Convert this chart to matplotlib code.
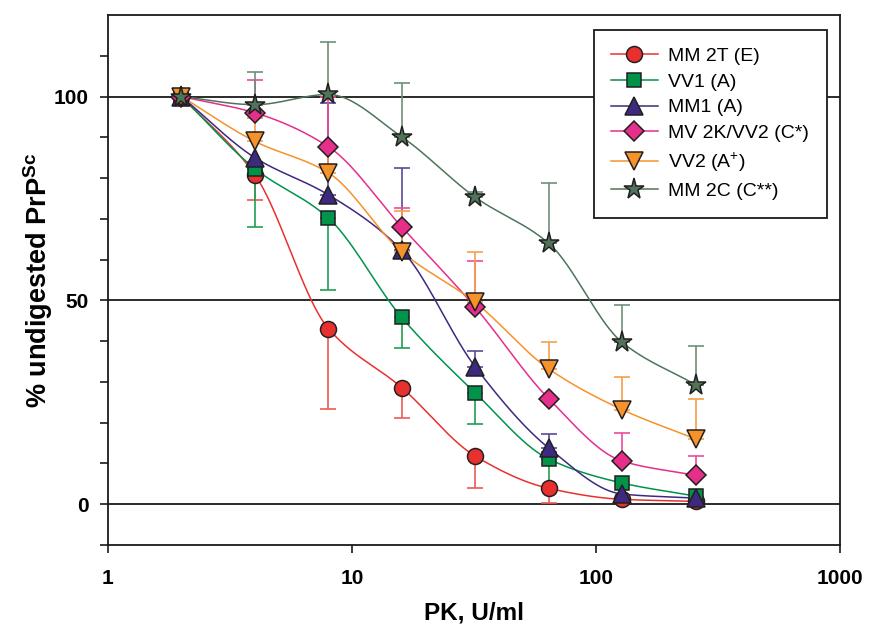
import numpy as np
import matplotlib
matplotlib.use("Agg")
import matplotlib.pyplot as plt
from matplotlib.lines import Line2D

plt.rcParams['font.family'] = ['Liberation Sans', 'DejaVu Sans']
plt.rcParams['mathtext.fontset'] = 'custom'
plt.rcParams['mathtext.rm'] = 'Liberation Sans'
plt.rcParams['mathtext.bf'] = 'Liberation Sans:bold'

# ---------------- data ----------------
pk = [2, 4, 8, 16, 32, 64, 128, 256]

labels = ["MM 2T (E)", "VV1 (A)", "MM1 (A)", "MV 2K/VV2 (C*)",
          "VV2 (A$^{\\mathregular{+}}$)", "MM 2C (C**)"]

mm2t = [100, 80.8, 43.1, 28.6, 11.8, 3.9, 1.2, 0.7]
vv1 = [100, 82.3, 70.2, 45.8, 27.3, 11.1, 5.2, 2.0]
mm1 = [100, 85.0, 75.9, 62.3, 33.7, 13.8, 2.5, 1.5]
mv2k = [100, 96.0, 87.7, 68.0, 48.3, 25.9, 10.6, 7.1]
vv2 = [100, 89.0, 81.3, 61.9, 49.5, 33.2, 23.2, 16.0]
mm2c = [100, 98.0, 100.5, 90.1, 75.3, 64.0, 39.7, 29.3]

# one-sided error bars (lower, upper)
mm2t_lo = [0, 6.2, 19.7, 7.4, 7.8, 3.6, 0, 0]
vv1_lo = [0, 14.3, 17.7, 7.6, 7.6, 7.0, 0, 0]
mm1_up = [0, 0, 22.6, 20.2, 4.0, 3.4, 0, 0]
mv2k_up = [0, 8.0, 12.3, 4.6, 11.3, 0, 6.9, 4.7]
vv2_up = [0, 5.8, 6.4, 10.0, 12.4, 6.5, 7.9, 9.9]
mm2c_up = [0, 8.0, 12.8, 13.1, 1.3, 14.8, 9.1, 9.4]

# ---------------- styles ----------------
series = [
    (mm2t, mm2t_lo, None, '#E8312F', '#EE5A55', 'o', 11.5),
    (vv1, vv1_lo, None, '#00934A', '#1FA055', 's', 10.5),
    (mm1, None, mm1_up, '#3D2A80', '#5A4A9A', '^', 12.5),
    (mv2k, None, mv2k_up, '#E62E8B', '#EC4C9A', 'D', 10.5),
    (vv2, None, vv2_up, '#F6922A', '#F6A04A', 'v', 12.5),
    (mm2c, None, mm2c_up, '#4F7459', '#6E8F77', '*', 15.5),
]
edge = '#231F20'


def pchip(x, y, xn):
    x = np.asarray(x, float); y = np.asarray(y, float)
    h = np.diff(x); d = np.diff(y) / h
    n = len(x); m = np.zeros(n)
    for k in range(1, n - 1):
        if d[k - 1] * d[k] > 0:
            w1 = 2 * h[k] + h[k - 1]; w2 = h[k] + 2 * h[k - 1]
            m[k] = (w1 + w2) / (w1 / d[k - 1] + w2 / d[k])
    m[0] = d[0]; m[-1] = d[-1]
    idx = np.clip(np.searchsorted(x, xn) - 1, 0, n - 2)
    t = (xn - x[idx]) / h[idx]
    h00 = 2 * t**3 - 3 * t**2 + 1; h10 = t**3 - 2 * t**2 + t
    h01 = -2 * t**3 + 3 * t**2; h11 = t**3 - t**2
    return (h00 * y[idx] + h10 * h[idx] * m[idx] + h01 * y[idx + 1]
            + h11 * h[idx] * m[idx + 1])


fig = plt.figure(figsize=(8.7, 6.24), dpi=100)
ax = fig.add_axes([0.1241, 0.1266, 0.8414, 0.8494])

lx = np.log2(pk)
handles = []
for i, (vals, lo, up, col, ecol, mk, ms) in enumerate(series):
    xs = np.linspace(lx[0], lx[-1], 400)
    ys = pchip(lx, vals, xs)
    ax.plot(2 ** xs, ys, color=col, lw=1.1, zorder=2 + i * 0.01)
    lo_arr = np.zeros(len(pk)) if lo is None else np.array(lo)
    up_arr = np.zeros(len(pk)) if up is None else np.array(up)
    mask = (lo_arr + up_arr) > 0
    ax.errorbar(np.array(pk)[mask], np.array(vals)[mask],
                yerr=[lo_arr[mask], up_arr[mask]], fmt='none',
                ecolor=ecol, elinewidth=1.2, capsize=5.5, capthick=1.2,
                zorder=2.5 + i * 0.01)
for i, (vals, lo, up, col, ecol, mk, ms) in enumerate(series):
    ax.plot(pk, vals, linestyle='none', marker=mk, ms=ms, mfc=col,
            mec=edge, mew=1.1, zorder=4 + i)
    handles.append(Line2D([], [], color=col, lw=1.1, marker=mk, ms=ms,
                          mfc=col, mec=edge, mew=1.1))

for yv in [0, 50, 100]:
    ax.axhline(yv, color='#1a1a1a', lw=1.3, zorder=1)

ax.set_xscale('log')
ax.set_xlim(1, 1000)
ax.set_ylim(-10, 120)
ax.set_xticks([1, 10, 100, 1000])
ax.set_xticklabels(['1', '10', '100', '1000'])
ax.xaxis.set_minor_locator(matplotlib.ticker.NullLocator())
ax.set_yticks(np.arange(-10, 111, 10))
ax.set_yticklabels(['' if v not in (0, 50, 100) else str(v)
                    for v in np.arange(-10, 111, 10)])
ax.tick_params(axis='both', direction='out', length=6, width=1.2,
               labelsize=15, color='#1a1a1a')
ax.tick_params(axis='x', pad=11)
ax.tick_params(axis='y', pad=8)
for lab in ax.get_xticklabels() + ax.get_yticklabels():
    lab.set_fontweight('bold')
for s in ax.spines.values():
    s.set_linewidth(1.3)
    s.set_color('#1a1a1a')

ax.set_xlabel('PK, U/ml', fontsize=17.5, fontweight='bold', labelpad=10)
ax.set_ylabel('% undigested PrP$^{\\mathregular{Sc}}$', fontsize=19.5,
              fontweight='bold', labelpad=-1)

leg = ax.legend(handles, labels, loc='upper right',
                bbox_to_anchor=(0.982, 0.972), fontsize=14,
                frameon=True, fancybox=False, edgecolor='#1a1a1a',
                framealpha=1, handlelength=2.4, handletextpad=0.55,
                labelspacing=0.42, borderpad=0.9, borderaxespad=0)
leg.get_frame().set_linewidth(1.3)
leg.set_zorder(20)

fig.savefig('out.png', dpi=100)
